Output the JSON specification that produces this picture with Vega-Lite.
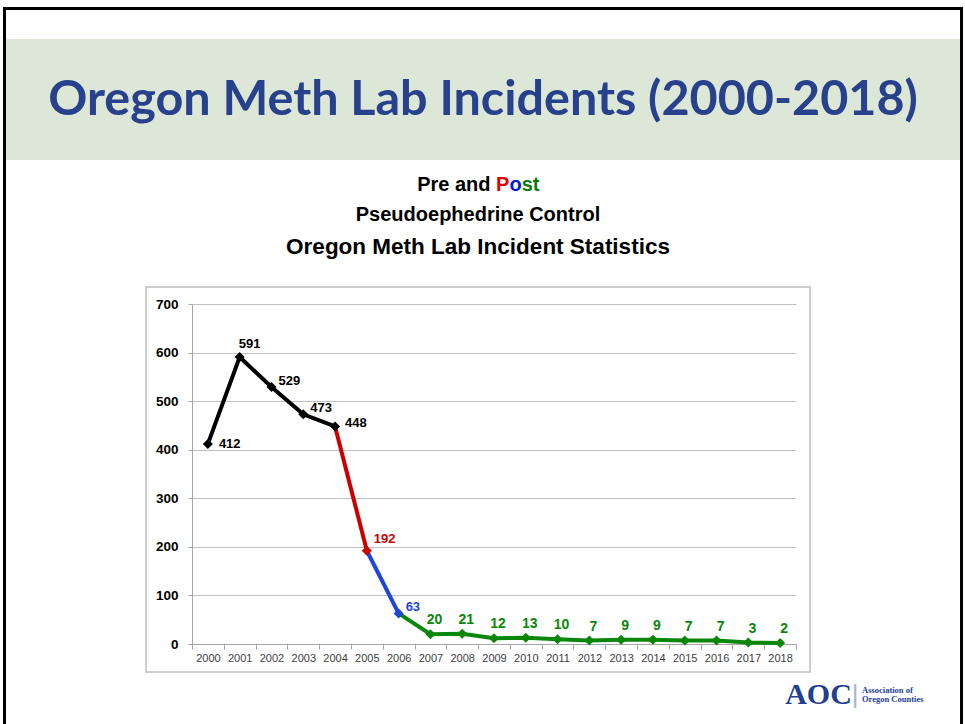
{
  "$schema": "https://vega.github.io/schema/vega-lite/v6.json",
  "background": "white",
  "padding": {"left": 3, "top": 7, "right": 2, "bottom": 0},
  "config": {"view": {"stroke": null, "fill": "white"}, "concat": {"spacing": 0}},
  "datasets": {
    "lines": [
      {"year": "2000", "value": 412, "phase": "pre"},
      {"year": "2001", "value": 591, "phase": "pre"},
      {"year": "2002", "value": 529, "phase": "pre"},
      {"year": "2003", "value": 473, "phase": "pre"},
      {"year": "2004", "value": 448, "phase": "pre"},
      {"year": "2004", "value": 448, "phase": "red"},
      {"year": "2005", "value": 192, "phase": "red"},
      {"year": "2005", "value": 192, "phase": "blue"},
      {"year": "2006", "value": 63, "phase": "blue"},
      {"year": "2006", "value": 63, "phase": "post"},
      {"year": "2007", "value": 20, "phase": "post"},
      {"year": "2008", "value": 21, "phase": "post"},
      {"year": "2009", "value": 12, "phase": "post"},
      {"year": "2010", "value": 13, "phase": "post"},
      {"year": "2011", "value": 10, "phase": "post"},
      {"year": "2012", "value": 7, "phase": "post"},
      {"year": "2013", "value": 9, "phase": "post"},
      {"year": "2014", "value": 9, "phase": "post"},
      {"year": "2015", "value": 7, "phase": "post"},
      {"year": "2016", "value": 7, "phase": "post"},
      {"year": "2017", "value": 3, "phase": "post"},
      {"year": "2018", "value": 2, "phase": "post"}
    ],
    "points": [
      {"year": "2000", "value": 412, "phase": "pre"},
      {"year": "2001", "value": 591, "phase": "pre"},
      {"year": "2002", "value": 529, "phase": "pre"},
      {"year": "2003", "value": 473, "phase": "pre"},
      {"year": "2004", "value": 448, "phase": "pre"},
      {"year": "2005", "value": 192, "phase": "red"},
      {"year": "2006", "value": 63, "phase": "blue"},
      {"year": "2007", "value": 20, "phase": "post"},
      {"year": "2008", "value": 21, "phase": "post"},
      {"year": "2009", "value": 12, "phase": "post"},
      {"year": "2010", "value": 13, "phase": "post"},
      {"year": "2011", "value": 10, "phase": "post"},
      {"year": "2012", "value": 7, "phase": "post"},
      {"year": "2013", "value": 9, "phase": "post"},
      {"year": "2014", "value": 9, "phase": "post"},
      {"year": "2015", "value": 7, "phase": "post"},
      {"year": "2016", "value": 7, "phase": "post"},
      {"year": "2017", "value": 3, "phase": "post"},
      {"year": "2018", "value": 2, "phase": "post"}
    ],
    "blank": [{}]
  },
  "spacing": 0,
  "hconcat": [
    {"width": 3, "height": 717, "view": {"fill": "black", "stroke": null}, "data": {"name": "blank"}, "mark": {"type": "point", "size": 0, "opacity": 0}},
    {
      "spacing": 0,
      "vconcat": [
        {"width": 954, "height": 3, "view": {"fill": "black", "stroke": null}, "data": {"name": "blank"}, "mark": {"type": "point", "size": 0, "opacity": 0}},
        {"width": 954, "height": 29, "data": {"name": "blank"}, "mark": {"type": "point", "size": 0, "opacity": 0}},
        {
          "width": 954, "height": 121,
          "view": {"fill": "#dde7d7", "stroke": null},
          "data": {"values": [{"t": "Oregon Meth Lab Incidents (2000-2018)"}]},
          "mark": {"type": "text", "font": "Lato", "fontWeight": "bold", "fontSize": 48.5, "color": "#27418c", "baseline": "middle", "align": "center"},
          "encoding": {"text": {"field": "t"}}
        },
        {
          "width": 954, "height": 126,
          "data": {"values": [
            {"k": "a", "t": "Pre and"},
            {"k": "p", "t": "P"},
            {"k": "o", "t": "o"},
            {"k": "s", "t": "st"},
            {"k": "l2", "t": "Pseudoephedrine Control"},
            {"k": "l3", "t": "Oregon Meth Lab Incident Statistics"}
          ]},
          "layer": [
            {"transform": [{"filter": "datum.k == 'a'"}], "mark": {"type": "text", "font": "Liberation Sans", "fontWeight": "bold", "fontSize": 20, "color": "#000000", "align": "right", "baseline": "middle", "dx": 7.5, "dy": -38}, "encoding": {"text": {"field": "t"}}},
            {"transform": [{"filter": "datum.k == 'p'"}], "mark": {"type": "text", "font": "Liberation Sans", "fontWeight": "bold", "fontSize": 20, "color": "#e00000", "align": "left", "baseline": "middle", "dx": 13, "dy": -38}, "encoding": {"text": {"field": "t"}}},
            {"transform": [{"filter": "datum.k == 'o'"}], "mark": {"type": "text", "font": "Liberation Sans", "fontWeight": "bold", "fontSize": 20, "color": "#0020d0", "align": "left", "baseline": "middle", "dx": 26.5, "dy": -38}, "encoding": {"text": {"field": "t"}}},
            {"transform": [{"filter": "datum.k == 's'"}], "mark": {"type": "text", "font": "Liberation Sans", "fontWeight": "bold", "fontSize": 20, "color": "#0a7a0a", "align": "left", "baseline": "middle", "dx": 38.7, "dy": -38}, "encoding": {"text": {"field": "t"}}},
            {"transform": [{"filter": "datum.k == 'l2'"}], "mark": {"type": "text", "font": "Liberation Sans", "fontWeight": "bold", "fontSize": 20, "color": "#000000", "align": "center", "baseline": "middle", "dx": -5, "dy": -8}, "encoding": {"text": {"field": "t"}}},
            {"transform": [{"filter": "datum.k == 'l3'"}], "mark": {"type": "text", "font": "Liberation Sans", "fontWeight": "bold", "fontSize": 22.5, "color": "#000000", "align": "center", "baseline": "middle", "dx": -5, "dy": 23.5}, "encoding": {"text": {"field": "t"}}}
          ]
        },
        {
          "spacing": 0,
          "bounds": "flush",
          "hconcat": [
            {"width": 140, "height": 385, "data": {"name": "blank"}, "mark": {"type": "point", "size": 0, "opacity": 0}},
            {
              "width": 664, "height": 385,
              "view": {"stroke": "#bfbfbf", "strokeWidth": 1.5, "fill": "white"},
              "encoding": {
                "x": {
                  "field": "year", "type": "ordinal",
                  "scale": {"type": "band", "range": [46, 650], "paddingInner": 0, "paddingOuter": 0},
                  "axis": {"title": null, "orient": "bottom", "offset": -28, "tickBand": "extent", "labelAngle": 0, "grid": false, "domainColor": "#a6a6a6", "tickColor": "#a6a6a6", "tickSize": 5, "labelFont": "Liberation Sans", "labelFontSize": 11, "labelColor": "#404040", "labelPadding": 3}
                },
                "y": {
                  "field": "value", "type": "quantitative",
                  "scale": {"domain": [0, 700], "range": [357, 17], "nice": false},
                  "axis": {"title": null, "offset": -46, "values": [0, 100, 200, 300, 400, 500, 600, 700], "grid": true, "gridColor": "#c0c0c0", "domainColor": "#a6a6a6", "tickColor": "#a6a6a6", "tickSize": 4, "labelFont": "Liberation Sans", "labelFontWeight": "bold", "labelFontSize": 13.5, "labelColor": "#000000", "labelPadding": 10}
                }
              },
              "layer": [
                {
                  "data": {"name": "lines"},
                  "mark": {"type": "line", "strokeWidth": 4},
                  "encoding": {"color": {"field": "phase", "type": "nominal", "scale": {"domain": ["pre", "red", "blue", "post"], "range": ["#000000", "#cc0000", "#1f45d6", "#0a870a"]}, "legend": null}}
                },
                {
                  "data": {"name": "points"},
                  "mark": {"type": "point", "shape": "diamond", "filled": true, "size": 100, "opacity": 1},
                  "encoding": {"color": {"field": "phase", "type": "nominal", "legend": null}}
                },
                {
                  "data": {"name": "points"},
                  "transform": [{"filter": "datum.year == '2000'"}],
                  "mark": {"type": "text", "font": "Liberation Sans", "fontWeight": "bold", "fontSize": 13, "align": "left", "baseline": "middle", "dx": 11, "dy": 0},
                  "encoding": {"text": {"field": "value"}, "color": {"field": "phase", "type": "nominal", "legend": null}}
                },
                {
                  "data": {"name": "points"},
                  "transform": [{"filter": "datum.year == '2001'"}],
                  "mark": {"type": "text", "font": "Liberation Sans", "fontWeight": "bold", "fontSize": 13, "align": "center", "baseline": "middle", "dx": 10, "dy": -13},
                  "encoding": {"text": {"field": "value"}, "color": {"field": "phase", "type": "nominal", "legend": null}}
                },
                {
                  "data": {"name": "points"},
                  "transform": [{"filter": "datum.year == '2002' || datum.year == '2003'"}],
                  "mark": {"type": "text", "font": "Liberation Sans", "fontWeight": "bold", "fontSize": 13, "align": "left", "baseline": "middle", "dx": 7, "dy": -6},
                  "encoding": {"text": {"field": "value"}, "color": {"field": "phase", "type": "nominal", "legend": null}}
                },
                {
                  "data": {"name": "points"},
                  "transform": [{"filter": "datum.year == '2004'"}],
                  "mark": {"type": "text", "font": "Liberation Sans", "fontWeight": "bold", "fontSize": 13, "align": "left", "baseline": "middle", "dx": 10, "dy": -3},
                  "encoding": {"text": {"field": "value"}, "color": {"field": "phase", "type": "nominal", "legend": null}}
                },
                {
                  "data": {"name": "points"},
                  "transform": [{"filter": "datum.year == '2005'"}],
                  "mark": {"type": "text", "font": "Liberation Sans", "fontWeight": "bold", "fontSize": 13, "align": "left", "baseline": "middle", "dx": 7, "dy": -12},
                  "encoding": {"text": {"field": "value"}, "color": {"field": "phase", "type": "nominal", "legend": null}}
                },
                {
                  "data": {"name": "points"},
                  "transform": [{"filter": "datum.year == '2006'"}],
                  "mark": {"type": "text", "font": "Liberation Sans", "fontWeight": "bold", "fontSize": 13, "align": "left", "baseline": "middle", "dx": 7, "dy": -6},
                  "encoding": {"text": {"field": "value"}, "color": {"field": "phase", "type": "nominal", "legend": null}}
                },
                {
                  "data": {"name": "points"},
                  "transform": [{"filter": "toNumber(datum.year) >= 2007"}],
                  "mark": {"type": "text", "font": "Liberation Sans", "fontWeight": "bold", "fontSize": 14, "align": "center", "baseline": "middle", "dx": 4, "dy": -14},
                  "encoding": {"text": {"field": "value"}, "color": {"field": "phase", "type": "nominal", "legend": null}}
                }
              ]
            },
            {"width": 150, "height": 385, "data": {"name": "blank"}, "mark": {"type": "point", "size": 0, "opacity": 0}}
          ]
        },
        {
          "width": 954, "height": 53,
          "data": {"values": [
            {"k": "big", "t": "AOC"},
            {"k": "bar", "t": "|"},
            {"k": "s1", "t": "Association of"},
            {"k": "s2", "t": "Oregon Counties"}
          ]},
          "layer": [
            {"transform": [{"filter": "datum.k == 'big'"}], "mark": {"type": "text", "font": "Liberation Serif", "fontWeight": "bold", "fontSize": 30, "color": "#233f8f", "align": "center", "baseline": "middle", "dx": 335.5, "dy": -5}, "encoding": {"text": {"field": "t"}}},
            {"transform": [{"filter": "datum.k == 'bar'"}], "mark": {"type": "text", "font": "Liberation Sans", "fontSize": 26, "color": "#a9b4d2", "align": "center", "baseline": "middle", "dx": 372, "dy": -5}, "encoding": {"text": {"field": "t"}}},
            {"transform": [{"filter": "datum.k == 's1'"}], "mark": {"type": "text", "font": "Liberation Serif", "fontWeight": "bold", "fontSize": 8.5, "color": "#233f8f", "align": "left", "baseline": "middle", "dx": 379, "dy": -9.5}, "encoding": {"text": {"field": "t"}}},
            {"transform": [{"filter": "datum.k == 's2'"}], "mark": {"type": "text", "font": "Liberation Serif", "fontWeight": "bold", "fontSize": 8.5, "color": "#233f8f", "align": "left", "baseline": "middle", "dx": 379, "dy": -0.5}, "encoding": {"text": {"field": "t"}}}
          ]
        }
      ]
    },
    {"width": 3, "height": 717, "view": {"fill": "black", "stroke": null}, "data": {"name": "blank"}, "mark": {"type": "point", "size": 0, "opacity": 0}}
  ]
}
